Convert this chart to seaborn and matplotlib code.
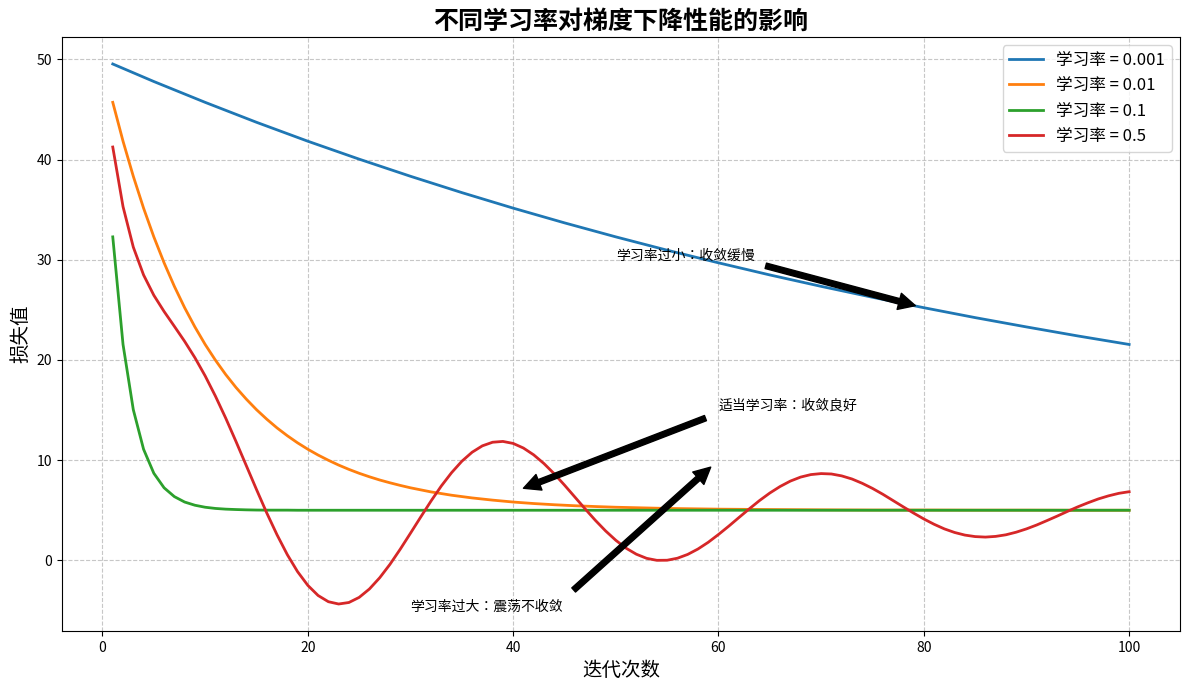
import matplotlib
matplotlib.use("Agg")
import matplotlib.pyplot as plt
import seaborn as sns

# ---------------- data ----------------
learning_rates = ["0.001", "0.01", "0.1", "0.5"]

blue_x = [1, 5, 10, 15, 20, 25, 30, 35, 40, 45, 50, 55, 60, 65, 70, 75, 80, 85, 90, 95, 100]
blue_y = [49.55, 47.80, 45.72, 43.73, 41.84, 40.05, 38.34, 36.71, 35.16, 33.69, 32.29,
          30.96, 29.70, 28.49, 27.35, 26.26, 25.22, 24.23, 23.30, 22.40, 21.55]

orange_x = list(range(1, 31)) + [32, 34, 36, 38, 40, 42, 44, 46, 48, 50,
                                 55, 60, 65, 70, 75, 80, 85, 90, 95, 100]
orange_y = [45.72, 41.84, 38.34, 35.16, 32.29, 29.70, 27.35, 25.22, 23.30, 21.55,
            19.98, 18.55, 17.26, 16.10, 15.04, 14.09, 13.22, 12.44, 11.73, 11.09,
            10.51, 9.99, 9.51, 9.08, 8.69, 8.34, 8.02, 7.74, 7.48, 7.24,
            6.83, 6.50, 6.23, 6.01, 5.82, 5.67, 5.55, 5.45, 5.37, 5.30,
            5.18, 5.11, 5.07, 5.04, 5.02, 5.02, 5.01, 5.01, 5.00, 5.00]

green_x = list(range(1, 21)) + [30, 40, 50, 60, 70, 80, 90, 100]
green_y = [32.29, 21.55, 15.04, 11.09, 8.69, 7.24, 6.36, 5.82, 5.50, 5.30,
           5.18, 5.11, 5.07, 5.04, 5.02, 5.01, 5.01, 5.01, 5.00, 5.00,
           5.00, 5.00, 5.00, 5.00, 5.00, 5.00, 5.00, 5.00]

red_x = list(range(1, 101))
red_y = [41.26, 35.31, 31.27, 28.49, 26.46, 24.84, 23.36, 21.86, 20.23, 18.41,
         16.39, 14.20, 11.87, 9.47, 7.07, 4.73, 2.55, 0.57, -1.13, -2.50,
         -3.51, -4.13, -4.36, -4.21, -3.70, -2.86, -1.74, -0.40, 1.11, 2.71,
         4.33, 5.92, 7.42, 8.75, 9.89, 10.79, 11.43, 11.79, 11.87, 11.67,
         11.21, 10.53, 9.66, 8.64, 7.51, 6.33, 5.15, 4.00, 2.94, 2.00,
         1.21, 0.61, 0.20, 0.00, 0.01, 0.21, 0.59, 1.13, 1.80, 2.58,
         3.41, 4.28, 5.14, 5.97, 6.72, 7.37, 7.91, 8.31, 8.56, 8.66,
         8.62, 8.43, 8.12, 7.69, 7.18, 6.60, 5.97, 5.34, 4.72, 4.13,
         3.60, 3.14, 2.78, 2.52, 2.37, 2.32, 2.39, 2.55, 2.81, 3.14,
         3.53, 3.97, 4.42, 4.89, 5.34, 5.75, 6.13, 6.44, 6.69, 6.85]

series_x = [blue_x, orange_x, green_x, red_x]
series_y = [blue_y, orange_y, green_y, red_y]
colors = ["#1f77b4", "#ff7f0e", "#2ca02c", "#d62728"]

annot_texts = ["学习率过小：收敛缓慢", "适当学习率：收敛良好", "学习率过大：震荡不收敛"]
annot_xy = [(80, 25.2), (40, 6.8), (60, 10)]
annot_xytext = [(50, 30), (60, 15), (30, -5)]

# ---------------- drawing ----------------
plt.rcParams["font.family"] = ["Noto Sans CJK SC", "DejaVu Sans"]
plt.rcParams["axes.unicode_minus"] = False

fig, ax = plt.subplots(figsize=(11.89, 6.9), dpi=100)

for lr, xs, ys, c in zip(learning_rates, series_x, series_y, colors):
    sns.lineplot(x=xs, y=ys, ax=ax, color=c, linewidth=2, label=f"学习率 = {lr}")

for txt, xy, xyt in zip(annot_texts, annot_xy, annot_xytext):
    ax.annotate(txt, xy=xy, xytext=xyt, fontsize=10,
                family=["Noto Sans CJK JP", "DejaVu Sans"],
                arrowprops=dict(facecolor="black", shrink=0.05))

ax.set_title("不同学习率对梯度下降性能的影响", fontsize=18, fontweight="bold")
ax.set_xlabel("迭代次数", fontsize=14)
ax.set_ylabel("损失值", fontsize=14)
ax.grid(True, linestyle="--", alpha=0.7)
ax.legend(loc="upper right", fontsize=12)

fig.subplots_adjust(left=0.0521, right=0.9924, top=0.9464, bottom=0.0855)
fig.savefig("out.png", dpi=100)
